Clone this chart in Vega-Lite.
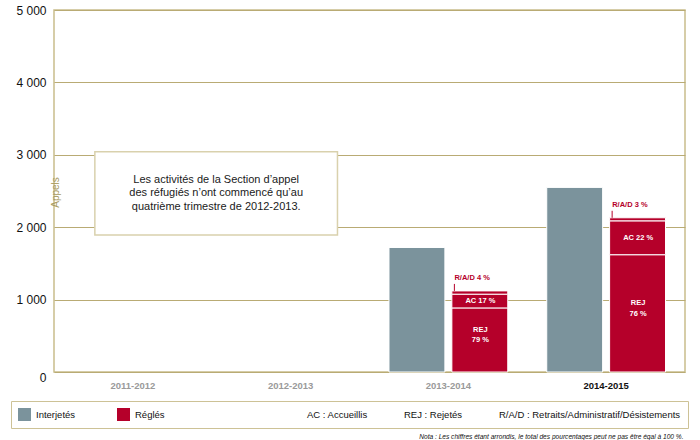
{
  "$schema": "https://vega.github.io/schema/vega-lite/v6.json",
  "width": 631,
  "height": 362,
  "autosize": "none",
  "padding": {"left": 54, "top": 10, "right": 15, "bottom": 68},
  "background": "white",
  "config": {
    "view": {"stroke": "#c9bd8c", "strokeWidth": 1.5},
    "font": "Liberation Sans"
  },
  "title": {
    "text": "Nota : Les chiffres étant arrondis, le total des pourcentages peut ne pas être égal à 100 %.",
    "orient": "bottom",
    "anchor": "end",
    "offset": 5,
    "dx": -5,
    "font": "Liberation Sans",
    "fontSize": 6.6,
    "fontStyle": "italic",
    "fontWeight": "normal",
    "color": "#111111"
  },
  "datasets": {
    "bars": [
      {"year": "2013-2014", "series": "Interjetés", "seg": "Total", "value": 1720, "ord": 0, "label": ""},
      {"year": "2013-2014", "series": "Réglés", "seg": "REJ", "value": 885, "ord": 1, "label": "REJ\n79 %"},
      {"year": "2013-2014", "series": "Réglés", "seg": "AC", "value": 190, "ord": 2, "label": "AC 17 %"},
      {"year": "2013-2014", "series": "Réglés", "seg": "RAD", "value": 45, "ord": 3, "label": "R/A/D 4 %"},
      {"year": "2014-2015", "series": "Interjetés", "seg": "Total", "value": 2550, "ord": 0, "label": ""},
      {"year": "2014-2015", "series": "Réglés", "seg": "REJ", "value": 1620, "ord": 1, "label": "REJ\n76 %"},
      {"year": "2014-2015", "series": "Réglés", "seg": "AC", "value": 468, "ord": 2, "label": "AC 22 %"},
      {"year": "2014-2015", "series": "Réglés", "seg": "RAD", "value": 42, "ord": 3, "label": "R/A/D 3 %"}
    ]
  },
  "resolve": {"scale": {"x": "independent"}, "axis": {"x": "independent"}},
  "layer": [
    {
      "data": {"values": [{"note": "Les activités de la Section d’appel\ndes réfugiés n’ont commencé qu’au\nquatrième trimestre de 2012-2013."}]},
      "layer": [
        {
          "mark": {"type": "rect", "fill": "white", "stroke": "#d9d1ad", "strokeWidth": 1.5},
          "encoding": {
            "x": {"datum": 0.259, "type": "quantitative", "scale": {"domain": [0, 4], "nice": false, "zero": false}, "axis": null},
            "x2": {"datum": 1.797},
            "y": {"datum": 3043, "type": "quantitative", "scale": {"domain": [0, 5000], "nice": false}},
            "y2": {"datum": 1892}
          }
        },
        {
          "mark": {"type": "text", "lineBreak": "\n", "fontSize": 11, "lineHeight": 13.5, "dy": -13.5, "color": "#1a1a1a", "align": "center", "baseline": "middle", "font": "Liberation Sans"},
          "encoding": {
            "x": {"datum": 1.028, "type": "quantitative", "scale": {"domain": [0, 4], "nice": false, "zero": false}, "axis": null},
            "y": {"datum": 2467, "type": "quantitative"},
            "text": {"field": "note"}
          }
        }
      ]
    },
    {
      "data": {"name": "bars"},
      "layer": [
        {
          "mark": {"type": "bar", "stroke": "white", "strokeWidth": 1},
          "encoding": {
            "x": {
              "field": "year", "type": "nominal",
              "scale": {"domain": ["2011-2012", "2012-2013", "2013-2014", "2014-2015"], "paddingInner": 0, "paddingOuter": 0},
              "axis": {
                "title": null, "domain": false, "ticks": false, "grid": false,
                "labelAngle": 0, "labelPadding": 8, "labelFont": "Liberation Sans",
                "labelFontSize": 9.5, "labelFontWeight": "bold",
                "labelColor": {"condition": {"test": "datum.value == '2014-2015'", "value": "#111111"}, "value": "#9a9a9a"}
              }
            },
            "xOffset": {
              "field": "series", "type": "nominal",
              "scale": {"domain": ["Interjetés", "Réglés"], "paddingInner": 0.111, "paddingOuter": 0.31}
            },
            "y": {
              "field": "value", "type": "quantitative", "stack": "zero",
              "scale": {"domain": [0, 5000], "nice": false},
              "axis": {
                "title": "Appels", "titleColor": "#a89a5e", "titleFontSize": 10, "titleFontWeight": "normal",
                "titleFont": "Liberation Sans", "titleAngle": -90, "titleX": 1, "titleY": 182,
                "titleAlign": "center", "titleBaseline": "middle",
                "values": [0, 1000, 2000, 3000, 4000, 5000],
                "labelExpr": "replace(format(datum.value, ','), ',', ' ')",
                "labelFontSize": 12, "labelColor": "#111111", "labelFont": "Liberation Sans",
                "labelPadding": 8, "ticks": false, "domain": false,
                "labelBaseline": {"condition": {"test": "datum.value == 0", "value": "top"}, "value": "middle"},
                "grid": true, "gridColor": "#b9ab74", "gridWidth": 1.2
              }
            },
            "color": {
              "field": "series", "type": "nominal",
              "scale": {
                "domain": ["Interjetés", "Réglés", "AC : Accueillis", "REJ : Rejetés", "R/A/D : Retraits/Administratif/Désistements"],
                "range": ["#7b939c", "#b5002a", "transparent", "transparent", "transparent"]
              },
              "legend": {
                "title": null, "orient": "none", "legendX": -43, "legendY": 391,
                "direction": "horizontal", "columns": 5, "symbolType": "square", "symbolSize": 169,
                "symbolStrokeWidth": 0,
                "labelFont": "Liberation Sans", "labelFontSize": 9.5, "labelColor": "#111111",
                "labelOffset": 5, "columnPadding": 18, "padding": 7, "labelLimit": 400,
                "strokeColor": "#cdc296", "fillColor": "white",
                "labelExpr": "datum.label == 'Interjetés' ? 'Interjetés' + '\u00a0\u00a0\u00a0\u00a0\u00a0\u00a0\u00a0\u00a0\u00a0\u200b' : datum.label == 'Réglés' ? 'Réglés' + '\u00a0\u00a0\u00a0\u00a0\u00a0\u00a0\u00a0\u00a0\u00a0\u00a0\u00a0\u00a0\u00a0\u00a0\u00a0\u00a0\u00a0\u00a0\u00a0\u00a0\u00a0\u00a0\u00a0\u00a0\u00a0\u00a0\u00a0\u00a0\u00a0\u00a0\u00a0\u00a0\u00a0\u00a0\u00a0\u00a0\u00a0\u00a0\u00a0\u00a0\u200b' : datum.label"
              }
            },
            "detail": {"field": "seg"},
            "order": {"field": "ord"}
          }
        },
        {
          "transform": [
            {"stack": "value", "groupby": ["year", "series"], "sort": [{"field": "ord"}], "as": ["v0", "v1"]},
            {"calculate": "(datum.v0 + datum.v1) / 2", "as": "mid"}
          ],
          "layer": [
            {
              "transform": [{"filter": "datum.seg == 'AC'"}],
              "mark": {"type": "text", "color": "white", "font": "Liberation Sans", "fontWeight": "bold", "fontSize": 7.5, "dx": 32, "baseline": "middle"},
              "encoding": {
                "x": {"field": "year", "type": "nominal", "scale": {"domain": ["2011-2012", "2012-2013", "2013-2014", "2014-2015"], "paddingInner": 0, "paddingOuter": 0}},
                "y": {"field": "mid", "type": "quantitative"},
                "text": {"field": "label"}
              }
            },
            {
              "transform": [{"filter": "datum.seg == 'REJ'"}],
              "mark": {"type": "text", "color": "white", "font": "Liberation Sans", "fontWeight": "bold", "fontSize": 7.5, "dx": 32, "dy": -10, "lineBreak": "\n", "lineHeight": 10.5, "baseline": "middle"},
              "encoding": {
                "x": {"field": "year", "type": "nominal"},
                "y": {"field": "mid", "type": "quantitative"},
                "text": {"field": "label"}
              }
            },
            {
              "transform": [{"filter": "datum.seg == 'RAD'"}],
              "mark": {"type": "text", "color": "#b5002a", "font": "Liberation Sans", "fontWeight": "bold", "fontSize": 7.5, "dx": 6, "dy": -13, "align": "left", "baseline": "middle"},
              "encoding": {
                "x": {"field": "year", "type": "nominal"},
                "y": {"field": "v1", "type": "quantitative"},
                "text": {"field": "label"}
              }
            },
            {
              "transform": [{"filter": "datum.seg == 'RAD'"}],
              "mark": {"type": "rule", "color": "#b5002a", "strokeWidth": 1, "xOffset": 6, "y2Offset": -7},
              "encoding": {
                "x": {"field": "year", "type": "nominal"},
                "y": {"field": "v1", "type": "quantitative"},
                "y2": {"field": "v1"}
              }
            }
          ]
        }
      ]
    }
  ]
}
